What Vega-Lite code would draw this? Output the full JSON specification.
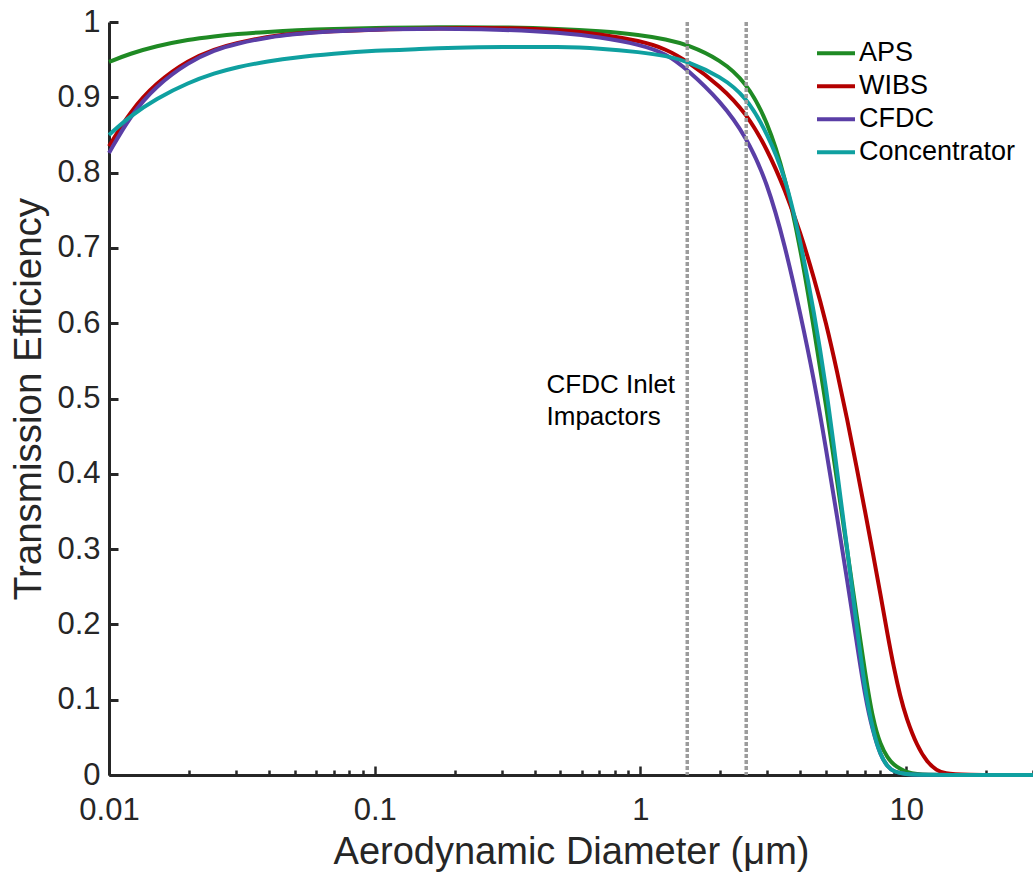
{
  "$schema": "https://vega.github.io/schema/vega-lite/v6.json",
  "width": 924,
  "height": 753,
  "autosize": {"type": "none"},
  "padding": {"left": 109, "top": 22, "right": 0, "bottom": 97},
  "background": "white",
  "config": {"view": {"stroke": null}, "font": "Liberation Sans"},
  "datasets": {
    "curves": [
      {"series": "APS", "d": 0.01, "te": 0.947}, {"series": "APS", "d": 0.012, "te": 0.958}, {"series": "APS", "d": 0.015, "te": 0.968}, {"series": "APS", "d": 0.02, "te": 0.977}, {"series": "APS", "d": 0.025, "te": 0.981}, {"series": "APS", "d": 0.03, "te": 0.984}, {"series": "APS", "d": 0.04, "te": 0.987}, {"series": "APS", "d": 0.05, "te": 0.989}, {"series": "APS", "d": 0.07, "te": 0.991}, {"series": "APS", "d": 0.1, "te": 0.992}, {"series": "APS", "d": 0.15, "te": 0.993}, {"series": "APS", "d": 0.2, "te": 0.993}, {"series": "APS", "d": 0.3, "te": 0.993}, {"series": "APS", "d": 0.5, "te": 0.991}, {"series": "APS", "d": 0.7, "te": 0.988}, {"series": "APS", "d": 1, "te": 0.983}, {"series": "APS", "d": 1.25, "te": 0.977}, {"series": "APS", "d": 1.5, "te": 0.970}, {"series": "APS", "d": 2, "te": 0.950}, {"series": "APS", "d": 2.5, "te": 0.920}, {"series": "APS", "d": 3, "te": 0.869}, {"series": "APS", "d": 3.5, "te": 0.795}, {"series": "APS", "d": 4, "te": 0.700}, {"series": "APS", "d": 4.5, "te": 0.592}, {"series": "APS", "d": 5, "te": 0.490}, {"series": "APS", "d": 5.5, "te": 0.389}, {"series": "APS", "d": 6, "te": 0.298}, {"series": "APS", "d": 6.5, "te": 0.213}, {"series": "APS", "d": 7, "te": 0.136}, {"series": "APS", "d": 7.5, "te": 0.072}, {"series": "APS", "d": 8, "te": 0.040}, {"series": "APS", "d": 8.5, "te": 0.023}, {"series": "APS", "d": 9, "te": 0.013}, {"series": "APS", "d": 9.5, "te": 0.008}, {"series": "APS", "d": 10, "te": 0.004}, {"series": "APS", "d": 11, "te": 0.001}, {"series": "APS", "d": 12, "te": 0}, {"series": "APS", "d": 14, "te": 0}, {"series": "APS", "d": 30, "te": 0},
      {"series": "WIBS", "d": 0.01, "te": 0.835}, {"series": "WIBS", "d": 0.012, "te": 0.881}, {"series": "WIBS", "d": 0.015, "te": 0.919}, {"series": "WIBS", "d": 0.02, "te": 0.950}, {"series": "WIBS", "d": 0.025, "te": 0.964}, {"series": "WIBS", "d": 0.03, "te": 0.972}, {"series": "WIBS", "d": 0.04, "te": 0.981}, {"series": "WIBS", "d": 0.05, "te": 0.985}, {"series": "WIBS", "d": 0.07, "te": 0.988}, {"series": "WIBS", "d": 0.1, "te": 0.990}, {"series": "WIBS", "d": 0.15, "te": 0.991}, {"series": "WIBS", "d": 0.2, "te": 0.992}, {"series": "WIBS", "d": 0.3, "te": 0.992}, {"series": "WIBS", "d": 0.5, "te": 0.990}, {"series": "WIBS", "d": 0.7, "te": 0.984}, {"series": "WIBS", "d": 1, "te": 0.975}, {"series": "WIBS", "d": 1.25, "te": 0.964}, {"series": "WIBS", "d": 1.5, "te": 0.948}, {"series": "WIBS", "d": 2, "te": 0.915}, {"series": "WIBS", "d": 2.5, "te": 0.879}, {"series": "WIBS", "d": 3, "te": 0.831}, {"series": "WIBS", "d": 3.5, "te": 0.777}, {"series": "WIBS", "d": 4, "te": 0.720}, {"series": "WIBS", "d": 4.5, "te": 0.660}, {"series": "WIBS", "d": 5, "te": 0.600}, {"series": "WIBS", "d": 5.5, "te": 0.535}, {"series": "WIBS", "d": 6, "te": 0.472}, {"series": "WIBS", "d": 6.5, "te": 0.410}, {"series": "WIBS", "d": 7, "te": 0.350}, {"series": "WIBS", "d": 7.5, "te": 0.294}, {"series": "WIBS", "d": 8, "te": 0.240}, {"series": "WIBS", "d": 8.5, "te": 0.187}, {"series": "WIBS", "d": 9, "te": 0.141}, {"series": "WIBS", "d": 9.5, "te": 0.104}, {"series": "WIBS", "d": 10, "te": 0.076}, {"series": "WIBS", "d": 11, "te": 0.038}, {"series": "WIBS", "d": 12, "te": 0.017}, {"series": "WIBS", "d": 13, "te": 0.006}, {"series": "WIBS", "d": 14, "te": 0.002}, {"series": "WIBS", "d": 16, "te": 0}, {"series": "WIBS", "d": 30, "te": 0},
      {"series": "CFDC", "d": 0.01, "te": 0.826}, {"series": "CFDC", "d": 0.012, "te": 0.875}, {"series": "CFDC", "d": 0.015, "te": 0.915}, {"series": "CFDC", "d": 0.02, "te": 0.947}, {"series": "CFDC", "d": 0.025, "te": 0.963}, {"series": "CFDC", "d": 0.03, "te": 0.971}, {"series": "CFDC", "d": 0.04, "te": 0.980}, {"series": "CFDC", "d": 0.05, "te": 0.984}, {"series": "CFDC", "d": 0.07, "te": 0.988}, {"series": "CFDC", "d": 0.1, "te": 0.990}, {"series": "CFDC", "d": 0.15, "te": 0.991}, {"series": "CFDC", "d": 0.2, "te": 0.991}, {"series": "CFDC", "d": 0.3, "te": 0.990}, {"series": "CFDC", "d": 0.5, "te": 0.986}, {"series": "CFDC", "d": 0.7, "te": 0.980}, {"series": "CFDC", "d": 1, "te": 0.970}, {"series": "CFDC", "d": 1.25, "te": 0.958}, {"series": "CFDC", "d": 1.5, "te": 0.937}, {"series": "CFDC", "d": 2, "te": 0.895}, {"series": "CFDC", "d": 2.5, "te": 0.848}, {"series": "CFDC", "d": 3, "te": 0.787}, {"series": "CFDC", "d": 3.5, "te": 0.703}, {"series": "CFDC", "d": 4, "te": 0.612}, {"series": "CFDC", "d": 4.5, "te": 0.525}, {"series": "CFDC", "d": 5, "te": 0.432}, {"series": "CFDC", "d": 5.5, "te": 0.342}, {"series": "CFDC", "d": 6, "te": 0.258}, {"series": "CFDC", "d": 6.5, "te": 0.178}, {"series": "CFDC", "d": 7, "te": 0.104}, {"series": "CFDC", "d": 7.5, "te": 0.057}, {"series": "CFDC", "d": 8, "te": 0.026}, {"series": "CFDC", "d": 8.5, "te": 0.011}, {"series": "CFDC", "d": 9, "te": 0.004}, {"series": "CFDC", "d": 10, "te": 0.001}, {"series": "CFDC", "d": 11, "te": 0}, {"series": "CFDC", "d": 14, "te": 0}, {"series": "CFDC", "d": 30, "te": 0},
      {"series": "Concentrator", "d": 0.01, "te": 0.850}, {"series": "Concentrator", "d": 0.012, "te": 0.875}, {"series": "Concentrator", "d": 0.015, "te": 0.898}, {"series": "Concentrator", "d": 0.02, "te": 0.920}, {"series": "Concentrator", "d": 0.025, "te": 0.932}, {"series": "Concentrator", "d": 0.03, "te": 0.940}, {"series": "Concentrator", "d": 0.04, "te": 0.948}, {"series": "Concentrator", "d": 0.05, "te": 0.953}, {"series": "Concentrator", "d": 0.07, "te": 0.958}, {"series": "Concentrator", "d": 0.1, "te": 0.962}, {"series": "Concentrator", "d": 0.15, "te": 0.964}, {"series": "Concentrator", "d": 0.2, "te": 0.966}, {"series": "Concentrator", "d": 0.3, "te": 0.967}, {"series": "Concentrator", "d": 0.5, "te": 0.967}, {"series": "Concentrator", "d": 0.7, "te": 0.965}, {"series": "Concentrator", "d": 1, "te": 0.960}, {"series": "Concentrator", "d": 1.25, "te": 0.955}, {"series": "Concentrator", "d": 1.5, "te": 0.948}, {"series": "Concentrator", "d": 2, "te": 0.928}, {"series": "Concentrator", "d": 2.5, "te": 0.901}, {"series": "Concentrator", "d": 3, "te": 0.852}, {"series": "Concentrator", "d": 3.5, "te": 0.796}, {"series": "Concentrator", "d": 4, "te": 0.709}, {"series": "Concentrator", "d": 4.5, "te": 0.615}, {"series": "Concentrator", "d": 5, "te": 0.515}, {"series": "Concentrator", "d": 5.5, "te": 0.402}, {"series": "Concentrator", "d": 6, "te": 0.300}, {"series": "Concentrator", "d": 6.5, "te": 0.200}, {"series": "Concentrator", "d": 7, "te": 0.112}, {"series": "Concentrator", "d": 7.5, "te": 0.058}, {"series": "Concentrator", "d": 8, "te": 0.026}, {"series": "Concentrator", "d": 8.5, "te": 0.011}, {"series": "Concentrator", "d": 9, "te": 0.004}, {"series": "Concentrator", "d": 10, "te": 0.001}, {"series": "Concentrator", "d": 11, "te": 0}, {"series": "Concentrator", "d": 14, "te": 0}, {"series": "Concentrator", "d": 30, "te": 0}
    ],
    "impactors": [{"d": 1.5}, {"d": 2.5}],
    "note": [{"d": 0.443, "te": 0.535, "label": "CFDC Inlet\nImpactors"}]
  },
  "layer": [
    {
      "data": {"name": "curves"},
      "mark": {"type": "line", "strokeWidth": 4, "interpolate": "basis"},
      "encoding": {
        "x": {
          "field": "d", "type": "quantitative",
          "scale": {"type": "log", "domain": [0.01, 30], "nice": false},
          "axis": {
            "title": "Aerodynamic Diameter (μm)",
            "titleFontSize": 38, "titleFontWeight": "normal", "titleColor": "#262626", "titleFont": "Liberation Sans", "titlePadding": 4,
            "values": [0.01, 0.02, 0.03, 0.04, 0.05, 0.06, 0.07, 0.08, 0.09, 0.1, 0.2, 0.3, 0.4, 0.5, 0.6, 0.7, 0.8, 0.9, 1, 2, 3, 4, 5, 6, 7, 8, 9, 10, 20, 30],
            "format": "~g",
            "labelExpr": "abs(log(datum.value)/LN10 - round(log(datum.value)/LN10)) < 0.001 ? datum.label : ''",
            "tickSize": {"condition": {"test": "abs(log(datum.value)/LN10 - round(log(datum.value)/LN10)) < 0.001", "value": -9}, "value": -5},
            "tickWidth": 2.5, "tickColor": "#262626",
            "domainWidth": 3, "domainColor": "#262626",
            "labelFontSize": 31, "labelColor": "#262626", "labelFont": "Liberation Sans", "labelPadding": 29,
            "labelFlush": false, "labelOverlap": false, "labelBound": false,
            "grid": false
          }
        },
        "y": {
          "field": "te", "type": "quantitative",
          "scale": {"domain": [0, 1], "nice": false},
          "axis": {
            "title": "Transmission Efficiency",
            "titleFontSize": 38.5, "titleFontWeight": "normal", "titleColor": "#262626", "titleFont": "Liberation Sans", "titlePadding": 8,
            "values": [0, 0.1, 0.2, 0.3, 0.4, 0.5, 0.6, 0.7, 0.8, 0.9, 1],
            "format": "~g",
            "tickSize": -9, "tickWidth": 3, "tickColor": "#262626",
            "domainWidth": 3, "domainColor": "#262626",
            "labelFontSize": 31, "labelColor": "#262626", "labelFont": "Liberation Sans", "labelPadding": 18,
            "labelOverlap": false, "labelBound": false, "labelFlush": false,
            "grid": false
          }
        },
        "color": {
          "field": "series", "type": "nominal",
          "scale": {"domain": ["APS", "WIBS", "CFDC", "Concentrator"], "range": ["#1f8a24", "#b30000", "#5a3ea6", "#0fa0a0"]},
          "sort": ["APS", "WIBS", "CFDC", "Concentrator"],
          "legend": {
            "orient": "none", "legendX": 706, "legendY": 15, "title": null, "padding": 0,
            "symbolType": "stroke", "symbolSize": 1444, "symbolStrokeWidth": 4,
            "labelFontSize": 27, "labelFont": "Liberation Sans", "labelColor": "#000000", "labelOffset": 2,
            "clipHeight": 32.5, "rowPadding": 0
          }
        }
      }
    },
    {
      "data": {"name": "impactors"},
      "mark": {"type": "rule", "color": "#9c9c9c", "strokeWidth": 3.5, "strokeDash": [4, 2]},
      "encoding": {"x": {"field": "d", "type": "quantitative"}}
    },
    {
      "data": {"name": "note"},
      "mark": {"type": "text", "align": "left", "baseline": "top", "fontSize": 26, "lineHeight": 32, "lineBreak": "\n", "font": "Liberation Sans", "color": "#000000"},
      "encoding": {
        "x": {"field": "d", "type": "quantitative"},
        "y": {"field": "te", "type": "quantitative"},
        "text": {"field": "label"}
      }
    }
  ]
}
